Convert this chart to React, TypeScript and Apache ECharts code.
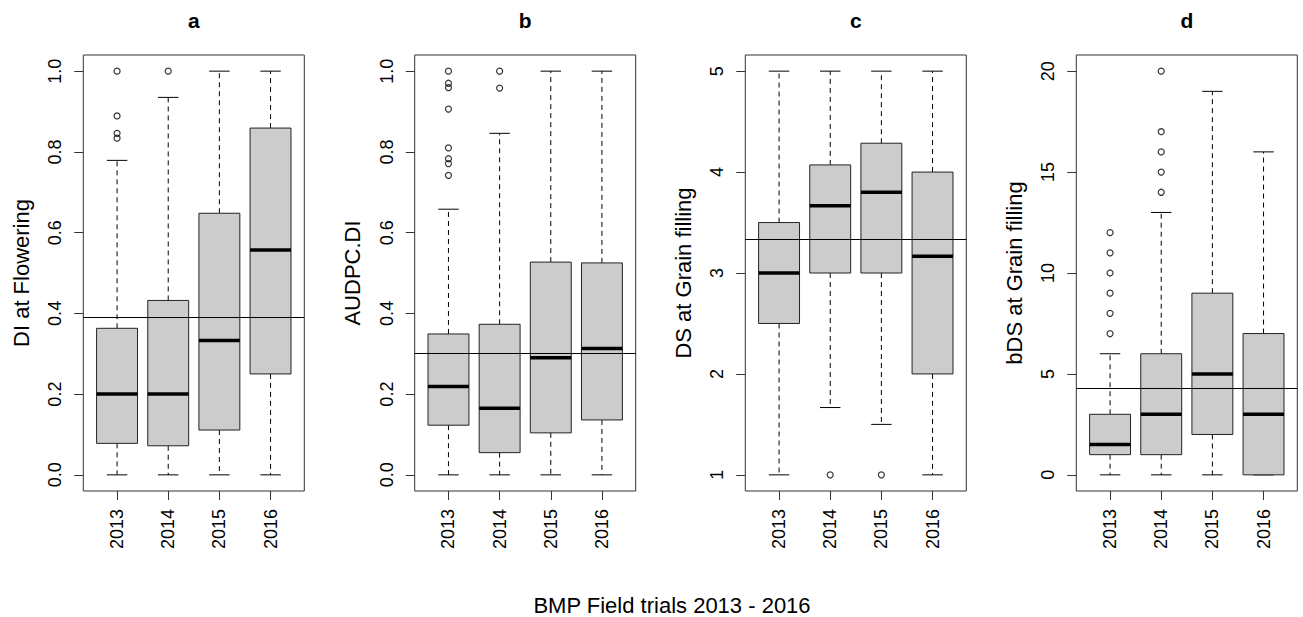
import React, { useEffect, useRef } from "react";
import * as echarts from "echarts";

const FONT = '"Liberation Sans", Arial, Helvetica, sans-serif';

const years = ["2013", "2014", "2015", "2016"];
const xPos = [1, 2, 3, 4];

// Panel a: DI at Flowering
const a_low = [0, 0, 0, 0];
const a_q1 = [0.078, 0.072, 0.111, 0.25];
const a_med = [0.2, 0.2, 0.333, 0.557];
const a_q3 = [0.363, 0.432, 0.648, 0.859];
const a_high = [0.779, 0.935, 1.0, 1.0];
const a_out = [[1, 0.834], [1, 0.846], [1, 0.889], [1, 1.0], [2, 1.0]];
const a_mean = 0.388;
const a_ticks = [0, 0.2, 0.4, 0.6, 0.8, 1.0];

// Panel b: AUDPC.DI
const b_low = [0, 0, 0, 0];
const b_q1 = [0.123, 0.055, 0.104, 0.136];
const b_med = [0.219, 0.165, 0.29, 0.313];
const b_q3 = [0.349, 0.373, 0.527, 0.525];
const b_high = [0.658, 0.846, 1.0, 1.0];
const b_out = [
  [1, 0.742], [1, 0.771], [1, 0.783], [1, 0.81], [1, 0.906], [1, 0.959], [1, 0.97], [1, 1.0],
  [2, 0.958], [2, 1.0],
];
const b_mean = 0.297;
const b_ticks = [0, 0.2, 0.4, 0.6, 0.8, 1.0];

// Panel c: DS at Grain filling
const c_low = [1, 1.667, 1.5, 1];
const c_q1 = [2.5, 3, 3, 2];
const c_med = [3, 3.667, 3.8, 3.167];
const c_q3 = [3.5, 4.071, 4.286, 4];
const c_high = [5, 5, 5, 5];
const c_out = [[2, 1], [3, 1]];
const c_mean = 3.325;
const c_ticks = [1, 2, 3, 4, 5];

// Panel d: bDS at Grain filling
const d_low = [0, 0, 0, 0];
const d_q1 = [1, 1, 2, 0];
const d_med = [1.5, 3, 5, 3];
const d_q3 = [3, 6, 9, 7];
const d_high = [6, 13, 19, 16];
const d_out = [
  [1, 7], [1, 8], [1, 9], [1, 10], [1, 11], [1, 12],
  [2, 14], [2, 15], [2, 16], [2, 17], [2, 20],
];
const d_mean = 4.3;
const d_ticks = [0, 5, 10, 15, 20];

const panels = [
  { title: "a", name: "DI at Flowering", low: a_low, q1: a_q1, med: a_med, q3: a_q3, high: a_high, out: a_out, mean: a_mean, ticks: a_ticks, dec: 1, left: 83.3 },
  { title: "b", name: "AUDPC.DI", low: b_low, q1: b_q1, med: b_med, q3: b_q3, high: b_high, out: b_out, mean: b_mean, ticks: b_ticks, dec: 1, left: 414.7 },
  { title: "c", name: "DS at Grain filling", low: c_low, q1: c_q1, med: c_med, q3: c_q3, high: c_high, out: c_out, mean: c_mean, ticks: c_ticks, dec: 0, left: 745.3 },
  { title: "d", name: "bDS at Grain filling", low: d_low, q1: d_q1, med: d_med, q3: d_q3, high: d_high, out: d_out, mean: d_mean, ticks: d_ticks, dec: 0, left: 1076.3 },
];

const GRID_TOP = 55;
const GRID_H = 436;
const GRID_W = 221;

function renderBox(params: any, api: any) {
  const x = api.value(0);
  const lo = api.value(1);
  const q1 = api.value(2);
  const md = api.value(3);
  const q3 = api.value(4);
  const hi = api.value(5);
  const hw = 0.4;
  const cw = 0.2;
  const p = (xx: number, yy: number) => api.coord([xx, yy]);
  const [xl, yq3] = p(x - hw, q3);
  const [xr, yq1] = p(x + hw, q1);
  const [xc, yhi] = p(x, hi);
  const ylo = p(x, lo)[1];
  const ymd = p(x, md)[1];
  const cl = p(x - cw, hi)[0];
  const cr = p(x + cw, hi)[0];
  const dash = { stroke: "#000", lineWidth: 1, lineDash: [5, 4], fill: null };
  const solid = { stroke: "#000", lineWidth: 1, fill: null };
  return {
    type: "group",
    children: [
      { type: "line", shape: { x1: xc, y1: yq3, x2: xc, y2: yhi }, style: dash },
      { type: "line", shape: { x1: xc, y1: yq1, x2: xc, y2: ylo }, style: dash },
      { type: "line", shape: { x1: cl, y1: yhi, x2: cr, y2: yhi }, style: solid },
      { type: "line", shape: { x1: cl, y1: ylo, x2: cr, y2: ylo }, style: solid },
      { type: "rect", shape: { x: xl, y: yq3, width: xr - xl, height: yq1 - yq3 }, style: { fill: "#cccccc", stroke: "#222", lineWidth: 1 } },
      { type: "line", shape: { x1: xl, y1: ymd, x2: xr, y2: ymd }, style: { stroke: "#000", lineWidth: 3.5, fill: null } },
    ],
  };
}

export default function App() {
  const ref = useRef<HTMLDivElement>(null);
  useEffect(() => {
    if (!ref.current) return;
    const chart = echarts.init(ref.current, null, { renderer: "svg" });

    const grid: any[] = [];
    const xAxis: any[] = [];
    const yAxis: any[] = [];
    const series: any[] = [];
    const graphic: any[] = [];

    panels.forEach((pn, i) => {
      const lo = Math.min(...pn.ticks);
      const hi = Math.max(...pn.ticks);
      const ext = (hi - lo) * 0.04;
      grid.push({
        left: pn.left,
        top: GRID_TOP,
        width: GRID_W,
        height: GRID_H,
        show: true,
        borderColor: "#333",
        borderWidth: 1,
        backgroundColor: "transparent",
      });
      xAxis.push({
        type: "value",
        gridIndex: i,
        min: 0.34,
        max: 4.66,
        axisLine: { show: false, onZero: false },
        splitLine: { show: false },
        axisTick: { show: true, inside: false, length: 9, customValues: xPos, lineStyle: { color: "#333", width: 1 } },
        axisLabel: {
          show: true,
          customValues: xPos,
          rotate: 90,
          margin: 18,
          fontSize: 18,
          fontFamily: FONT,
          color: "#000",
          formatter: (v: number) => years[Math.round(v) - 1] ?? "",
        },
      });
      yAxis.push({
        type: "value",
        gridIndex: i,
        min: lo - ext,
        max: hi + ext,
        axisLine: { show: false, onZero: false },
        splitLine: { show: false },
        axisTick: { show: true, inside: false, length: 9, customValues: pn.ticks, lineStyle: { color: "#333", width: 1 } },
        axisLabel: {
          show: true,
          customValues: pn.ticks,
          rotate: 90,
          margin: 19,
          fontSize: 18,
          fontFamily: FONT,
          color: "#000",
          formatter: (v: number) => v.toFixed(pn.dec),
        },
      });
      const boxData = xPos.map((x, k) => [x, pn.low[k], pn.q1[k], pn.med[k], pn.q3[k], pn.high[k]]);
      series.push({
        type: "custom",
        xAxisIndex: i,
        yAxisIndex: i,
        renderItem: renderBox,
        encode: { x: 0, y: [1, 2, 3, 4, 5] },
        data: boxData,
        silent: true,
        clip: false,
      });
      series.push({
        type: "scatter",
        xAxisIndex: i,
        yAxisIndex: i,
        data: pn.out,
        symbol: "circle",
        symbolSize: 6,
        itemStyle: { color: "rgba(0,0,0,0)", borderColor: "#000", borderWidth: 1.2 },
        silent: true,
        z: 3,
        markLine: {
          silent: true,
          symbol: "none",
          label: { show: false },
          lineStyle: { color: "#000", width: 1, type: "solid" },
          data: [{ yAxis: pn.mean }],
          z: 5,
        },
      });
      graphic.push({
        type: "text",
        x: pn.left + GRID_W / 2,
        y: 20,
        style: {
          text: pn.title,
          font: `bold 21px ${FONT}`,
          fill: "#000",
          align: "center",
          verticalAlign: "middle",
          textAlign: "center",
          textVerticalAlign: "middle",
        },
      });
      graphic.push({
        type: "text",
        x: pn.left - 62,
        y: GRID_TOP + GRID_H / 2,
        rotation: Math.PI / 2,
        style: {
          text: pn.name,
          font: `22px ${FONT}`,
          fill: "#000",
          align: "center",
          verticalAlign: "middle",
          textAlign: "center",
          textVerticalAlign: "middle",
        },
      });
    });

    graphic.push({
      type: "text",
      x: 672,
      y: 605,
      style: {
        text: "BMP Field trials 2013 - 2016",
        font: `22px ${FONT}`,
        fill: "#000",
        align: "center",
        verticalAlign: "middle",
        textAlign: "center",
        textVerticalAlign: "middle",
      },
    });

    chart.setOption({
      animation: false,
      backgroundColor: "#fff",
      grid,
      xAxis,
      yAxis,
      series,
      graphic,
    });
    return () => chart.dispose();
  }, []);

  return (
    <div
      ref={ref}
      style={{ position: "absolute", left: 0, top: 0, width: 1303, height: 617 }}
    />
  );
}
